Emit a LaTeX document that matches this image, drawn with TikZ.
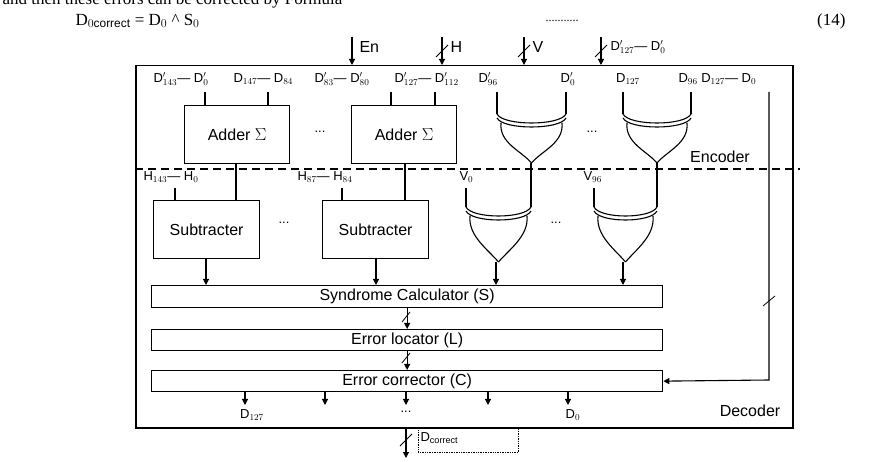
\documentclass[tikz,border=0pt]{standalone}
\usepackage{fontspec}
\setmainfont{Liberation Sans}
\newfontfamily\serif{Liberation Serif}
\usetikzlibrary{arrows.meta}
\begin{document}
\begin{tikzpicture}[x=1pt,y=-1pt,line width=1.1pt,
  box/.style={draw,line width=1.3pt,inner sep=0},
  lbl/.style={font=\fontsize{16}{17}\selectfont,inner sep=1pt},
  sm/.style={font=\fontsize{13}{14}\selectfont,inner sep=0pt},
  arr/.style={-{Triangle[length=6pt,width=6pt]}},
  sl/.style={line width=0.8pt}]
\useasboundingbox (0,0) rectangle (884,462);
% header text
\node[anchor=west,font=\serif\fontsize{17}{18}\selectfont,inner sep=0] (t0) at (2,0) {and then these errors can be corrected by Formula};
\node[anchor=west,font=\serif\fontsize{17}{18}\selectfont,inner sep=0] (t1) at (75,21) {D$_{0\mathrm{correct}}$ = D$_0$ \^{} S$_0$};
\node[font=\serif\fontsize{12}{13}\selectfont,inner sep=0] (t2) at (562,21) {...........};
\node[anchor=east,font=\serif\fontsize{17}{18}\selectfont,inner sep=0] (t3) at (846,21) {(14)};
% outer box
\node[box,minimum width=657,minimum height=362,anchor=north west,line width=1.5pt] (outer) at (135,65) {};
\coordinate (dl) at (135,169); \coordinate (dr) at (800,169);
\draw[dashed,dash pattern=on 8pt off 5pt,line width=1.2pt] (dl) -- (dr);
% inputs
\foreach \x/\n in {352/en,442/h,524/v,601/d}{\coordinate (\n a) at (\x,37); \coordinate (\n b) at (\x,65); \draw[arr] (\n a) -- (\n b);}
\foreach \x in {442,524,601}{\draw[sl] (\x-6,57) -- (\x+6,45);}
\node[lbl,anchor=west] (len) at (358,47) {En};
\node[lbl,anchor=west] (lh) at (449,47) {H};
\node[lbl,anchor=west] (lv) at (531,47) {V};
\node[sm,anchor=west] (ld) at (610,47) {D$'_{127}$— D$_0'$};
% top labels
\node[sm,anchor=west] (r1a) at (153,79) {D$'_{143}$— D$'_{0}$};
\node[sm,anchor=west] (r1b) at (233,79) {D$_{147}$— D$_{84}$};
\node[sm,anchor=west] (r1c) at (314,79) {D$'_{83}$— D$'_{80}$};
\node[sm,anchor=west] (r1d) at (394,79) {D$'_{127}$— D$'_{112}$};
\node[sm,anchor=west] (r1e) at (478,79) {D$'_{96}$};
\node[sm] (r2) at (568,79) {D$'_{0}$};
\node[sm] (r3) at (628,79) {D$_{127}$};
\node[sm,anchor=west] (r4) at (678,79) {D$_{96}$ D$_{127}$— D$_{0}$};
% adders
\node[box,minimum width=105,minimum height=58,anchor=north west,lbl] (add1) at (184,105) {Adder $\Sigma$};
\node[box,minimum width=105,minimum height=58,anchor=north west,lbl] (add2) at (351,105) {Adder $\Sigma$};
\foreach \x in {205,268,391,435}{\draw (\x,92) -- (\x,105);}
\node[sm] (dd1) at (320,132) {...};
\node[sm] (dd2) at (592,132) {...};
\node[sm] (dd3) at (284,223) {...};
\node[sm] (dd4) at (556,223) {...};
\node[lbl] (enc) at (720,157) {Encoder};
% H labels
\node[sm,anchor=west] (h1) at (143,177) {H$_{143}$— H$_0$};
\node[sm,anchor=west] (h2) at (297,177) {H$_{87}$— H$_{84}$};
\node[sm,anchor=west] (v1) at (459,177) {V$_0$};
\node[sm,anchor=west] (v2) at (583,177) {V$_{96}$};
% subtractors
\node[box,minimum width=106,minimum height=58,anchor=north west,lbl] (sub1) at (153,200) {Subtracter};
\node[box,minimum width=106,minimum height=58,anchor=north west,lbl] (sub2) at (322,200) {Subtracter};
\draw (236,163) -- (236,200);
\draw (405,163) -- (405,200);
\draw (175,188) -- (175,200);
\draw (342,188) -- (342,200);
% XOR gates
\newcommand\xorgate[4]{% x1 x2 ytop ybot
  \pgfmathsetmacro\xm{(#1+#2)/2}
  \draw (#1,#3) .. controls (#1+6,#3+12) and (#2-6,#3+12) .. (#2,#3);
  \draw (#1,#3-4) .. controls (#1+6,#3+8) and (#2-6,#3+8) .. (#2,#3-4);
  \draw (#1+4,#3+5) .. controls (#1+2,#3+25) and (\xm-10,#4-12) .. (\xm,#4);
  \draw (#2-4,#3+5) .. controls (#2-2,#3+25) and (\xm+10,#4-12) .. (\xm,#4);
}
\xorgate{497}{566}{118}{163}
\xorgate{623}{691}{118}{163}
\xorgate{466}{531}{211}{262}
\xorgate{594}{657}{211}{262}
\foreach \x in {497,566,623,691}{\draw (\x,92) -- (\x,114);}
\draw (531,163) -- (531,207);
\draw (657,163) -- (657,207);
\draw (466,188) -- (466,207);
\draw (594,188) -- (594,207);
% syndrome etc
\node[box,minimum width=511,minimum height=22,anchor=north west,lbl] (syn) at (151,285) {Syndrome Calculator (S)};
\node[box,minimum width=511,minimum height=21,anchor=north west,lbl] (loc) at (151,329) {Error locator (L)};
\node[box,minimum width=511,minimum height=21,anchor=north west,lbl] (cor) at (151,370) {Error corrector (C)};
\draw[arr] (206,258) -- (206,285);
\draw[arr] (376,258) -- (376,285);
\draw[arr] (496,262) -- (496,285);
\draw[arr] (623,262) -- (623,285);
\draw[arr] (syn.south) -- (loc.north);
\draw[arr] (loc.south) -- (cor.north);
\draw[sl] (402,322) -- (410,312);
\draw[sl] (402,363) -- (410,353);
% right bypass
\coordinate (rb1) at (769,92); \coordinate (rb2) at (769,380);
\draw[arr] (rb1) -- (rb2) -- (cor.east);
\draw[sl] (763,306) -- (775,296);
% outputs
\foreach \x in {245,325,406,488,568}{\draw[arr] (\x,391) -- (\x,405);}
\node[sm] (o1) at (252,415) {D$_{127}$};
\node[sm] (o2) at (406,412) {...};
\node[sm] (o3) at (573,415) {D$_0$};
\node[lbl] (dec) at (750,411) {Decoder};
% final output
\coordinate (fo) at (406,458);
\draw[arr] (outer.south -| 406,0) -- (fo);
\draw[sl] (400,446) -- (412,434);
\node[draw,densely dotted,line width=0.7pt,minimum width=100,minimum height=25,anchor=north west] (dc) at (418,427) {};
\node[sm,anchor=west] (dct) at (420,438) {D$_{\mathrm{correct}}$};
\end{tikzpicture}
\end{document}
